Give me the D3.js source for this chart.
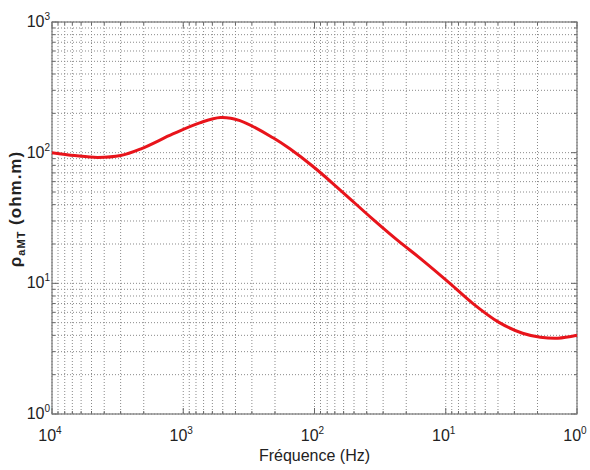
<!DOCTYPE html>
<html>
<head>
<meta charset="utf-8">
<script src="https://cdn.jsdelivr.net/npm/d3@7"></script>
<style>
  body { margin: 0; background: #fff; }
  .grid line { stroke: #8a8a8a; stroke-width: 1; stroke-dasharray: 1,2; }
  .tick-lbl { font-family: "Liberation Sans Narrow", "Liberation Sans", Arial, sans-serif; fill: #222; }
</style>
</head>
<body>
<div id="chart"></div>
<script>
// curve (frequency in Hz, apparent resistivity in ohm.m)
const freq = [10000, 6700, 4500, 3000, 2100, 1200, 750, 520, 370, 207, 154, 102, 64, 36, 23.5, 15, 9.3, 6.2, 3.9, 2.6, 1.9, 1.4, 1.0];
const rho  = [100, 95, 92, 95, 107, 139, 169, 186, 176, 130, 107, 78, 52, 31, 21.5, 15, 10, 7.0, 5.0, 4.15, 3.87, 3.8, 4.0];

const xDecades = [1e4, 1e3, 1e2, 1e1, 1e0];
const yDecades = [1e0, 1e1, 1e2, 1e3];

const W = 590, H = 470;
const margin = { top: 22, right: 13, bottom: 56, left: 52 };
const width = W - margin.left - margin.right;
const height = H - margin.top - margin.bottom;

const svg = d3.select('#chart').append('svg')
  .attr('width', W)
  .attr('height', H);

const chart = svg.append('g')
  .attr('transform', `translate(${margin.left},${margin.top})`);

// x axis is reversed: high frequency on the left
const xScale = d3.scaleLog().domain([1e4, 1e0]).range([0, width]);
const yScale = d3.scaleLog().domain([1e0, 1e3]).range([height, 0]);

// all log ticks 1..9 per decade
const minorTicks = (decs) => {
  const out = [];
  const lo = d3.min(decs), hi = d3.max(decs);
  for (let d = lo; d < hi; d *= 10) {
    for (let k = 1; k < 10; k++) out.push(d * k);
  }
  out.push(hi);
  return out;
};
const xTicks = minorTicks(xDecades);
const yTicks = minorTicks(yDecades);

// grid
const grid = chart.append('g').attr('class', 'grid');
grid.selectAll('.gx').data(xTicks).enter().append('line')
  .attr('x1', d => xScale(d)).attr('x2', d => xScale(d))
  .attr('y1', 0).attr('y2', height);
grid.selectAll('.gy').data(yTicks).enter().append('line')
  .attr('y1', d => yScale(d)).attr('y2', d => yScale(d))
  .attr('x1', 0).attr('x2', width);

// small inward ticks on the box
const tickLen = (d) => (xDecades.includes(d) || yDecades.includes(d)) ? 6 : 3;
const ticks = chart.append('g').attr('stroke', '#666').attr('stroke-width', 1);
xTicks.forEach(d => {
  ticks.append('line').attr('x1', xScale(d)).attr('x2', xScale(d)).attr('y1', height).attr('y2', height - tickLen(d));
  ticks.append('line').attr('x1', xScale(d)).attr('x2', xScale(d)).attr('y1', 0).attr('y2', tickLen(d));
});
yTicks.forEach(d => {
  ticks.append('line').attr('y1', yScale(d)).attr('y2', yScale(d)).attr('x1', 0).attr('x2', tickLen(d));
  ticks.append('line').attr('y1', yScale(d)).attr('y2', yScale(d)).attr('x1', width).attr('x2', width - tickLen(d));
});

// frame
chart.append('rect')
  .attr('x', 0).attr('y', 0)
  .attr('width', width).attr('height', height)
  .attr('fill', 'none')
  .attr('stroke', '#777')
  .attr('stroke-width', 1.2);

// curve
const line = d3.line()
  .x((d, i) => xScale(freq[i]))
  .y(d => yScale(d))
  .curve(d3.curveCatmullRom.alpha(0.5));

chart.append('path')
  .datum(rho)
  .attr('d', line)
  .attr('fill', 'none')
  .attr('stroke', '#e8141b')
  .attr('stroke-width', 3);

// power-of-ten labels
const powLabel = (g, v, x, y, anchor) => {
  const t = g.append('text')
    .attr('class', 'tick-lbl')
    .attr('x', x).attr('y', y)
    .attr('text-anchor', anchor)
    .style('font-size', '16px');
  t.append('tspan').text('10');
  t.append('tspan').attr('dy', -7).style('font-size', '10px').text(Math.round(Math.log10(v)));
};

const xl = chart.append('g');
xDecades.forEach(v => powLabel(xl, v, xScale(v) - 2, height + 27, 'middle'));

const yl = chart.append('g');
yDecades.forEach(v => powLabel(yl, v, -2, yScale(v) + 5, 'end'));

// axis titles
svg.append('text')
  .attr('x', margin.left + width / 2)
  .attr('y', 461)
  .attr('text-anchor', 'middle')
  .attr('class', 'tick-lbl')
  .style('font-size', '16px')
  .text('Fréquence (Hz)');

const yt = svg.append('text')
  .attr('transform', 'translate(21,209) rotate(-90)')
  .attr('text-anchor', 'middle')
  .style('font-family', '"Liberation Sans", Arial, sans-serif')
  .style('font-weight', 'bold')
  .style('font-size', '17px')
  .style('letter-spacing', '1px')
  .attr('fill', '#222');
yt.append('tspan').text('ρ');
yt.append('tspan').attr('dy', 4).style('font-size', '11px').text('aMT');
yt.append('tspan').attr('dy', -4).text(' (ohm.m)');
</script>
</body>
</html>
